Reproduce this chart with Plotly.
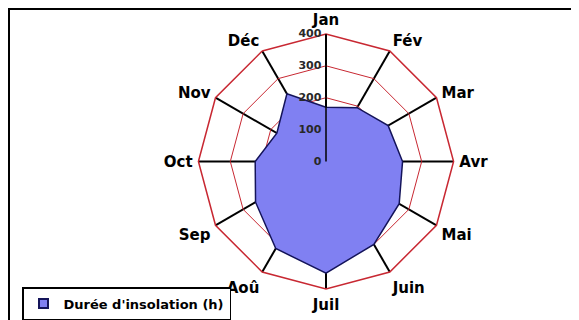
import plotly.graph_objects as go

months = ["Jan", "Fév", "Mar", "Avr", "Mai", "Juin", "Juil", "Aoû", "Sep", "Oct", "Nov", "Déc"]
month_labels = ["Jan", "Fév", "Mar", "Avr", "Mai", "Juin", "Juil", "Aoû", "Sep", "Oct", "Nov", "Déc"]
insolation = [170, 195, 225, 240, 265, 300, 350, 315, 255, 222, 178, 245]
radial_ticks = [0, 100, 200, 300, 400]
series_name = "Durée d'insolation (h)"

# page is rendered with an 8px body margin, so the figure is sized to fit
W, H = 571, 312
cx, cy, R = 318, 154, 128

FILL = "rgb(128,128,242)"
EDGE = "rgb(20,20,90)"
FONT = "DejaVu Sans, Liberation Sans, Arial"

fig = go.Figure()
fig.add_trace(go.Scatterpolar(
    r=insolation + [insolation[0]],
    theta=months + [months[0]],
    mode="lines",
    fill="toself",
    fillcolor=FILL,
    line=dict(color=EDGE, width=1.5),
    name=series_name,
    showlegend=False,
))
# legend entry with a square swatch
fig.add_trace(go.Scatterpolar(
    r=[None], theta=[months[0]],
    mode="markers",
    marker=dict(symbol="square", size=9, color=FILL, line=dict(color=EDGE, width=2)),
    name=series_name,
    showlegend=True,
))

fig.update_layout(
    width=W, height=H,
    margin=dict(l=0, r=0, t=0, b=0),
    paper_bgcolor="white",
    font=dict(family=FONT, size=15, color="black", weight="bold"),
    polar=dict(
        domain=dict(x=[(cx - R) / W, (cx + R) / W], y=[(H - cy - R) / H, (H - cy + R) / H]),
        bgcolor="white",
        gridshape="linear",
        radialaxis=dict(
            range=[0, 400],
            tickvals=radial_ticks,
            ticktext=[str(v) for v in radial_ticks],
            angle=90,
            tickangle=90,
            side="counterclockwise",
            showline=True,
            linecolor="black",
            linewidth=1.5,
            gridcolor="rgb(200,40,50)",
            gridwidth=1.4,
            ticks="",
            tickfont=dict(size=11, family=FONT, weight="bold", color="rgb(40,40,40)"),
        ),
        angularaxis=dict(
            direction="clockwise",
            rotation=90,
            categoryarray=months,
            tickvals=months,
            ticktext=month_labels,
            showline=True,
            linecolor="rgb(200,40,50)",
            linewidth=1.5,
            gridcolor="black",
            gridwidth=1.5,
            ticks="outside",
            ticklen=2,
            tickcolor="rgba(0,0,0,0)",
            tickfont=dict(size=15, family=FONT, weight="bold"),
        ),
    ),
    legend=dict(
        x=14 / W, y=1 - 280 / H,
        xanchor="left", yanchor="top",
        bordercolor="black", borderwidth=1.5,
        bgcolor="white",
        font=dict(size=13, family=FONT, weight="bold"),
        itemwidth=30,
        tracegroupgap=0,
    ),
    shapes=[dict(
        type="rect", xref="paper", yref="paper",
        x0=1 / W, x1=1.02, y0=-0.02, y1=1 - 1 / H,
        line=dict(color="black", width=2),
        layer="below",
    )],
)

fig.write_html("out.html")
